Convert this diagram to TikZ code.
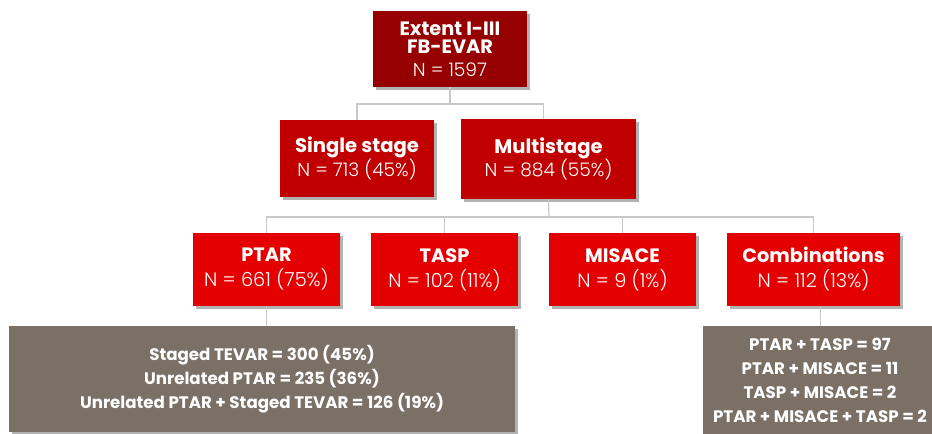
\documentclass[tikz,border=0pt]{standalone}
\usepackage{fontspec}
\setmainfont{Poppins}
\newfontfamily\lightfont{Poppins Light}
\usetikzlibrary{shadows}
\definecolor{topred}{RGB}{150,0,0}
\definecolor{midred}{RGB}{192,0,0}
\definecolor{lowred}{RGB}{228,0,0}
\definecolor{greybox}{RGB}{122,112,102}
\definecolor{linkgrey}{RGB}{200,200,200}
\tikzset{
  boxbase/.style={draw=none, text=white, align=center, inner sep=0pt,
    drop shadow={shadow xshift=2.5pt, shadow yshift=-2.5pt, opacity=0.3, fill=black}},
  topbox/.style={boxbase, fill=topred},
  midbox/.style={boxbase, fill=midred, font=\fontsize{14}{18.75}\selectfont},
  lowbox/.style={boxbase, fill=lowred, font=\fontsize{14.5}{18.75}\selectfont},
  greyrect/.style={boxbase, fill=greybox, font=\bfseries\fontsize{12.5}{18}\selectfont},
  link/.style={draw=linkgrey, line width=0.9pt},
}
\begin{document}
\begin{tikzpicture}[x=0.75pt,y=-0.75pt]
\useasboundingbox (0,0) rectangle (932,434);
% nodes
\node[topbox, minimum width=115.5pt, minimum height=57pt, font=\fontsize{14.5}{14}\selectfont] (top) at (450,49)
  {\textbf{Extent I-III}\\\textbf{FB-EVAR}\\[2.7pt]{\lightfont\fontsize{14}{14}\selectfont N = 1597}};
\node[midbox, minimum width=115.5pt, minimum height=57.75pt] (single) at (357,158.5)
  {\textbf{\fontsize{14.7}{18.75}\selectfont Single stage}\\[-1pt]{\lightfont N = 713 (45\%)}};
\node[midbox, minimum width=131.25pt, minimum height=60pt] (multi) at (548.5,159)
  {\textbf{\fontsize{14.7}{18.75}\selectfont Multistage}\\[-1pt]{\lightfont N = 884 (55\%)}};
\node[lowbox, minimum width=110.25pt, minimum height=54.75pt] (ptar) at (266.5,269.5)
  {\textbf{PTAR}\\{\lightfont N = 661 (75\%)}};
\node[lowbox, minimum width=110.25pt, minimum height=54.75pt] (tasp) at (444.5,269.5)
  {\textbf{TASP}\\{\lightfont N = 102 (11\%)}};
\node[lowbox, minimum width=110.25pt, minimum height=54.75pt] (misace) at (622.5,269.5)
  {\textbf{MISACE}\\{\lightfont N = 9 (1\%)}};
\node[lowbox, minimum width=129.75pt, minimum height=54.75pt] (comb) at (813.5,269.5)
  {\textbf{Combinations}\\{\lightfont N = 112 (13\%)}};
\node[greyrect, minimum width=379.5pt, minimum height=79.5pt] (gleft) at (262,379)
  {Staged TEVAR = 300 (45\%)\\Unrelated PTAR = 235 (36\%)\\Unrelated PTAR + Staged TEVAR = 126 (19\%)};
\node[greyrect, minimum width=175.5pt, minimum height=81pt, anchor=north] (gright) at (820,326)
  {PTAR + TASP = 97\\PTAR + MISACE = 11\\TASP + MISACE = 2\\PTAR + MISACE + TASP = 2};
% connectors
\coordinate (j1) at (450,104);
\coordinate (j2) at (549,217);
\draw[link] (top.south) -- (j1);
\draw[link] (j1) -| (single.north);
\draw[link] (j1) -| ([xshift=-3.5pt]multi.north);
\draw[link] (multi.south) -- (j2);
\draw[link] (j2) -| (ptar.north);
\draw[link] (j2) -| (tasp.north);
\draw[link] (j2) -| (misace.north);
\draw[link] (j2) -| (comb.north);
\draw[link] (ptar.south) -- (ptar.south |- gleft.north);
\draw[link] ([xshift=5.5pt]comb.south) -- ([xshift=5.5pt]comb.south |- gright.north);
\end{tikzpicture}
\end{document}
